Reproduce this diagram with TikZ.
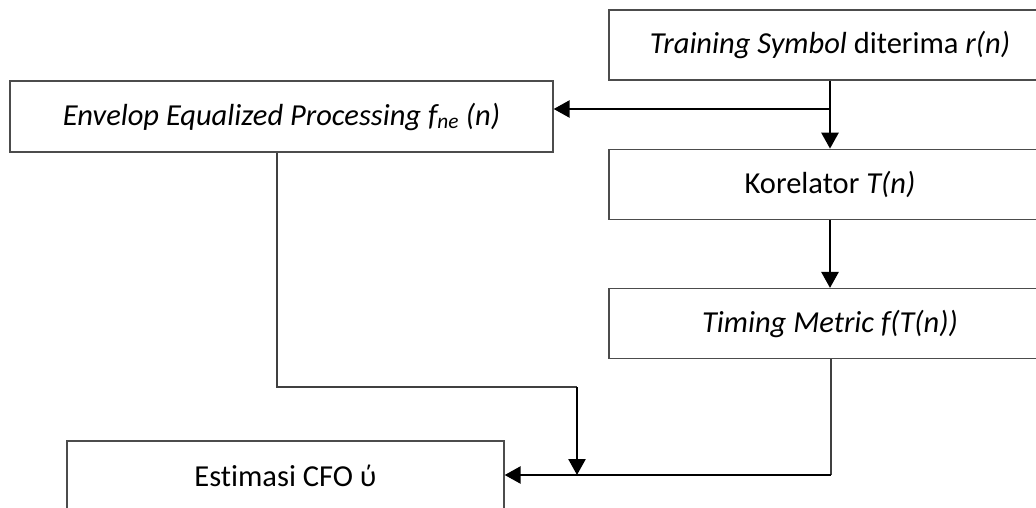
\documentclass[tikz,border=0pt]{standalone}
\usepackage{fontspec}
\setmainfont[Ligatures=NoCommon]{Carlito}
\usetikzlibrary{positioning,arrows.meta}

\begin{document}
\begin{tikzpicture}[x=1pt,y=-1pt,>={Triangle[length=16pt,width=17pt]},
    block/.style={rectangle, draw=black!70, line width=1.3pt, minimum height=70pt, inner sep=0pt, align=center, font=\fontsize{30.5}{36}\selectfont},
    thinline/.style={draw=black!75, line width=1.5pt},
    arrowline/.style={->, line width=2.6pt},
    node distance=68pt]

\clip (0,0) rectangle (1036,508);
\fill[white] (0,0) rectangle (1036,508);

\node[block, minimum width=442pt] (train) at (830,45) {\textit{Training Symbol} diterima \textit{r(n)}};
\node[block, minimum width=543pt, minimum height=71pt] (env) at (281.5,116.5) {\textit{Envelop Equalized Processing f\textsubscript{ne} (n)}};
\node[block, minimum width=442pt, below=of train] (kor) {Korelator \textit{T(n)}};
\node[block, minimum width=442pt, below=of kor] (tim) {\textit{Timing Metric f(T(n))}};
\node[block, minimum width=437pt] (est) at (285.5,476) {Estimasi CFO ύ};

\coordinate (split) at (830,109);
\coordinate (envcorner) at (277,387);
\coordinate (merge) at (577,387);
\coordinate (timcorner) at (831,475);

\draw[arrowline] (train.south) -- (kor.north);
\draw[arrowline] (split) -- (split -| env.east);
\draw[arrowline] (kor.south) -- (tim.north);
\draw[thinline] ([xshift=-4.5pt]env.south) -- (envcorner) -- (merge);
\draw[arrowline] (merge) -- (merge |- timcorner);
\draw[thinline] ([xshift=1pt]tim.south) -- (timcorner);
\draw[arrowline] (timcorner) -- (timcorner -| est.east);

\end{tikzpicture}
\end{document}
